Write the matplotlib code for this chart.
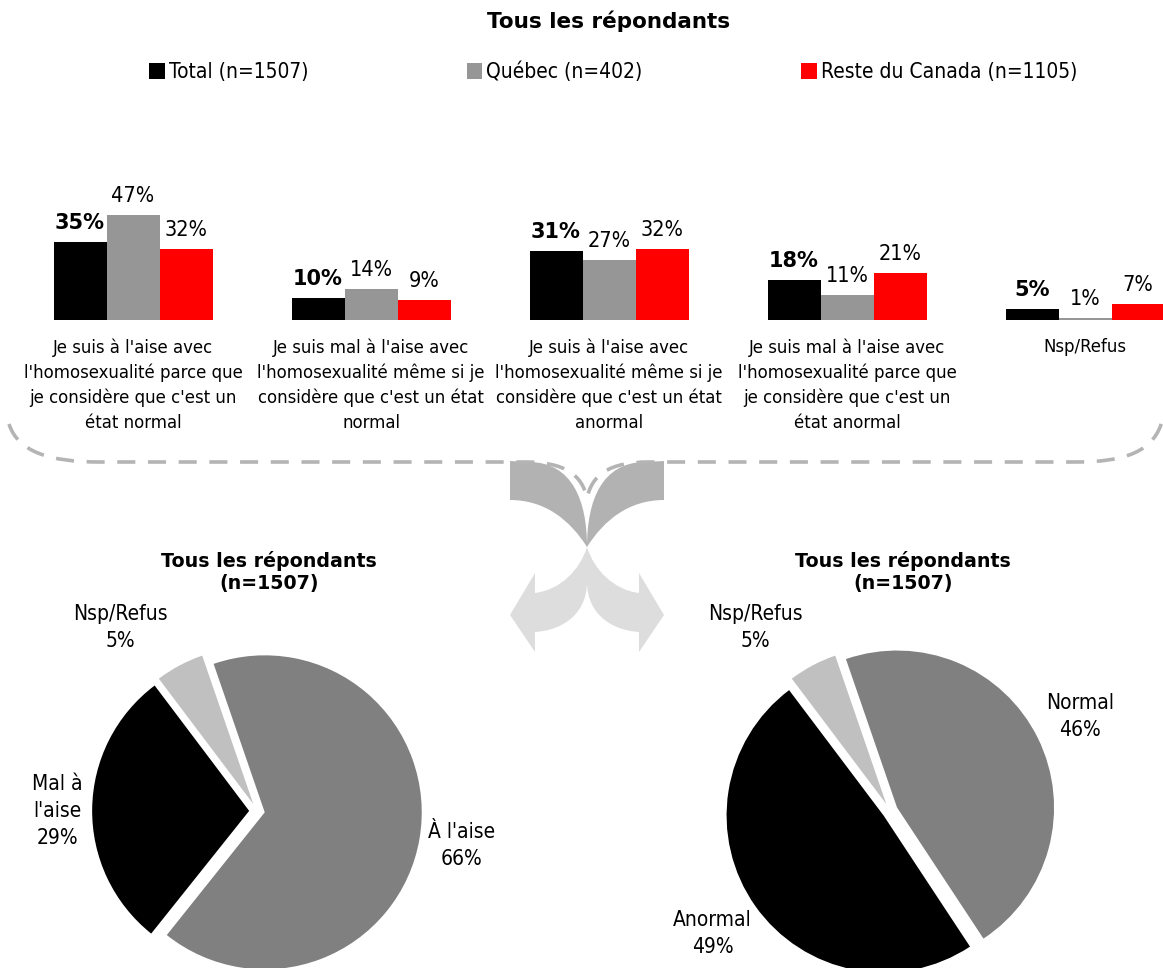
import matplotlib
matplotlib.use("Agg")
import matplotlib.pyplot as plt
import numpy as np
from matplotlib.path import Path
from matplotlib.patches import PathPatch, Patch

W, H = 1163, 968

# data
categories = [
    "Je suis à l'aise avec\nl'homosexualité parce que\nje considère que c'est un\nétat normal",
    "Je suis mal à l'aise avec\nl'homosexualité même si je\nconsidère que c'est un état\nnormal",
    "Je suis à l'aise avec\nl'homosexualité même si je\nconsidère que c'est un état\nanormal",
    "Je suis mal à l'aise avec\nl'homosexualité parce que\nje considère que c'est un\nétat anormal",
    "Nsp/Refus",
]
series_names = ["Total (n=1507)", "Québec (n=402)", "Reste du Canada (n=1105)"]
total = [35, 10, 31, 18, 5]
quebec = [47, 14, 27, 11, 1]
reste = [32, 9, 32, 21, 7]

pie1_labels = ["À l'aise", "Mal à\nl'aise", "Nsp/Refus"]
pie1_values = [66, 29, 5]
pie2_labels = ["Normal", "Anormal", "Nsp/Refus"]
pie2_values = [46, 49, 5]

main_title = "Tous les répondants"
pie_title = "Tous les répondants\n(n=1507)"

bar_colors = ["#000000", "#969696", "#ff0000"]
pie_colors = ["#808080", "#000000", "#c0c0c0"]

plt.rcParams["font.family"] = "DejaVu Sans"
plt.rcParams["font.stretch"] = "condensed"

fig = plt.figure(figsize=(W / 100, H / 100), dpi=100)


def fx(x):
    return x / W


def fy(y):
    return 1 - y / H


# ---- grouped bars ----
ax = fig.add_axes([0, fy(320), 1, 170 / H])
ax.set_xlim(-133 / 238, 1030 / 238)
ax.set_ylim(0, 170 / 2.23)
ax.axis("off")

x = np.arange(len(categories))
bw = 53 / 238
for k, (vals, col) in enumerate(zip([total, quebec, reste], bar_colors)):
    xs = x + (k - 1) * bw
    ax.bar(xs, vals, width=bw, color=col, linewidth=0)
    for xi, v in zip(xs, vals):
        if k == 0:
            ax.annotate(f"{v}%", (xi, v), xytext=(0, 6.5), textcoords="offset points",
                        ha="center", va="bottom", fontsize=15, fontweight="bold",
                        fontstretch="normal")
        else:
            ax.annotate(f"{v}%", (xi, v), xytext=(0, 6.5), textcoords="offset points",
                        ha="center", va="bottom", fontsize=15.5)

for xi, lab in zip(x, categories):
    ax.annotate(lab, (xi, 0), xytext=(0, -13), textcoords="offset points",
                ha="center", va="top", fontsize=13.2, linespacing=1.47)

# legend + title
handles = [Patch(facecolor=c, edgecolor="none") for c in bar_colors]
fig.legend(handles, series_names, loc="center", bbox_to_anchor=(fx(613), fy(72)),
           ncol=3, frameon=False, fontsize=15, handlelength=0.75, handleheight=0.75,
           handletextpad=0.2, columnspacing=7.6)
fig.text(fx(609), fy(21), main_title, ha="center", va="center",
         fontsize=15.5, fontweight="bold", fontstretch="normal")


# ---- decorative arrows and brace ----
def add_path(pts, codes, **kw):
    verts = [(fx(px), fy(py)) for px, py in pts]
    fig.add_artist(PathPatch(Path(verts, codes), transform=fig.transFigure, **kw))


M, L, C, Z = Path.MOVETO, Path.LINETO, Path.CURVE4, Path.CLOSEPOLY
dark = [(510, 461), (530, 462), (572, 463), (587, 500), (587, 547),
        (570, 520), (545, 500), (510, 500), (510, 461)]
dark_codes = [M, L, C, C, C, C, C, C, Z]
light = [(587, 547), (580, 570), (560, 590), (535, 593), (535, 573), (510, 615),
         (535, 652), (535, 632), (565, 630), (587, 612), (587, 582), (587, 547)]
light_codes = [M, C, C, C, L, L, L, L, C, C, C, Z]
for pts, codes, col in [(dark, dark_codes, "#b2b2b2"), (light, light_codes, "#dddddd")]:
    add_path(pts, codes, facecolor=col, edgecolor="none", zorder=1)
    add_path([(1174 - px, py) for px, py in pts], codes, facecolor=col,
             edgecolor="none", zorder=1)

brace = [(9, 424), (18, 452), (50, 462), (100, 462), (525, 462),
         (565, 462), (582, 475), (587, 498), (592, 475), (609, 462), (649, 462),
         (1075, 462), (1125, 462), (1155, 452), (1163, 418)]
brace_codes = [M, C, C, C, L, C, C, C, C, C, C, L, C, C, C]
add_path(brace, brace_codes, facecolor="none", edgecolor="#b4b4b4",
         linewidth=2.6, linestyle=(0, (5, 3.5)), zorder=2)


# ---- pies ----
R = 157


def draw_pie(cx, cy, labels, values, label_xy):
    half = 1.25 * R
    pax = fig.add_axes([fx(cx - half), fy(cy + half), 2 * half / W, 2 * half / H])
    wedges, _ = pax.pie(values, colors=pie_colors, startangle=109, counterclock=False,
                        explode=[0.05] * len(values), radius=1,
                        wedgeprops=dict(linewidth=0))
    pax.set_xlim(-1.25, 1.25)
    pax.set_ylim(-1.25, 1.25)
    for lab, v, (lx, ly) in zip(labels, values, label_xy):
        pax.text(lx, ly, f"{lab}\n{v}%", ha="center", va="center",
                 fontsize=15, linespacing=1.42)
    return pax


draw_pie(257, 811, pie1_labels, pie1_values, [(1.30, -0.22), (-1.27, 0.0), (-0.87, 1.17)])
draw_pie(890, 811, pie2_labels, pie2_values, [(1.21, 0.60), (-1.13, -0.78), (-0.86, 1.17)])

fig.text(fx(269), fy(572), pie_title, ha="center", va="center", fontsize=13.7,
         fontweight="bold", fontstretch="normal", linespacing=1.25)
fig.text(fx(903), fy(572), pie_title, ha="center", va="center", fontsize=13.7,
         fontweight="bold", fontstretch="normal", linespacing=1.25)

fig.savefig("out.png", dpi=100)
